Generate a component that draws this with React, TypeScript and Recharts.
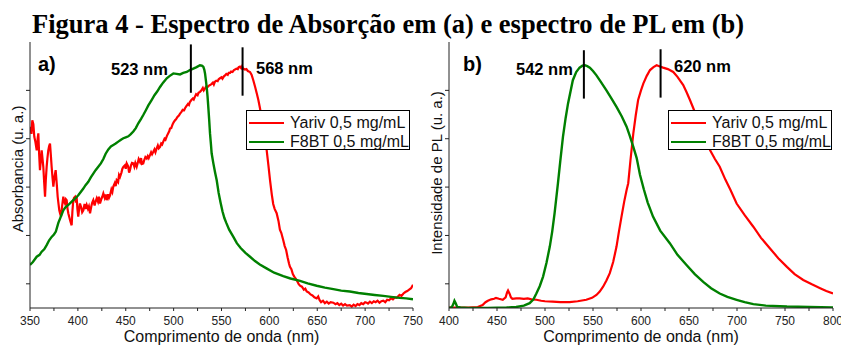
import { LineChart, Line, XAxis, YAxis, ReferenceLine, Legend } from 'recharts';

// Absorbance (a): [wavelength nm, intensity a.u.]
const yarivAbs: [number, number][] = [
  [350, 3.75], [351.5, 3.6], [352.4, 3.88], [353.5, 3.8], [354.5, 3.54], [355.5, 3.45], [357, 3.26], [358, 3.5],
  [358.7, 3.61], [359.5, 3.2], [360.4, 2.85], [361.3, 3.05], [362.2, 3.26], [363, 3.1], [363.9, 2.92], [364.8, 2.6],
  [365.7, 2.3], [366.5, 2.65], [367.4, 2.92], [368.2, 3.1], [369.1, 3.26], [370, 3.35], [370.9, 3.4], [371.8, 3.15],
  [372.6, 2.92], [373.5, 2.7], [374.4, 2.51], [375.5, 2.7], [376.8, 2.85], [378, 2.55], [378.9, 2.3], [379.8, 2.15],
  [380.6, 2.02], [381.5, 1.95], [382.4, 1.89], [383.5, 2.1], [384.8, 2.3], [385.7, 2.2], [386.6, 2.16], [387.5, 2.25],
  [388.3, 2.23], [389.2, 2.05], [390, 1.96], [391, 1.88], [391.8, 1.82], [392.7, 1.76], [393.5, 1.71], [394.3, 2.0],
  [395.2, 2.23], [396, 2.28], [397, 2.3], [398, 2.18], [398.7, 2.3], [399.5, 2.05], [400.4, 1.89], [401.3, 2.05],
  [402.2, 2.16], [403.5, 2.08], [404.5, 1.98], [405.7, 2.02], [407, 2.15], [408, 2.05], [409.2, 2.13], [410.5, 2.05],
  [411.5, 2.1], [412.7, 1.96], [414, 2.1], [415, 2.18], [416.1, 2.23], [417.5, 2.12], [418.5, 2.2], [419.7, 2.27],
  [421, 2.2], [422, 2.3], [423.1, 2.16], [424.5, 2.25], [425.5, 2.3], [426.6, 2.37], [428, 2.28], [429, 2.35],
  [430.1, 2.23], [431.5, 2.35], [432.5, 2.28], [433.6, 2.33], [435, 2.45], [436, 2.4], [437, 2.51], [438.5, 2.58],
  [439.5, 2.52], [440.5, 2.64], [442, 2.6], [443, 2.75], [444, 2.71], [445.5, 2.8], [446.5, 2.88], [447.5, 2.92],
  [449, 2.95], [450, 2.88], [451, 2.99], [452.5, 2.93], [453.5, 2.8], [454.4, 2.85], [455.5, 2.95], [456.5, 3.0],
  [457.9, 2.99], [459, 2.92], [460, 3.0], [461.4, 2.92], [462.5, 3.0], [463.5, 3.08], [464.9, 3.02], [466, 3.1],
  [467, 2.98], [468.3, 2.99], [469.5, 3.07], [470.5, 3.12], [471.9, 3.09], [473, 3.14], [474, 3.1], [475.3, 3.16],
  [476.5, 3.22], [477.5, 3.18], [478.8, 3.23], [480, 3.28], [481, 3.22], [482.3, 3.3], [483.5, 3.36], [484.5, 3.3],
  [485.8, 3.33], [487, 3.4], [488, 3.38], [489.2, 3.44], [490.5, 3.5], [491.5, 3.48], [493, 3.56], [494.5, 3.62],
  [495.5, 3.66], [496.2, 3.71], [497.5, 3.72], [499, 3.8], [500, 3.84], [501.4, 3.88], [502.5, 3.9], [504, 3.95],
  [505.5, 3.98], [506.7, 4.02], [508, 4.05], [509.5, 4.1], [511, 4.09], [511.9, 4.13], [513.5, 4.18], [515, 4.22],
  [516, 4.2], [517, 4.26], [518.5, 4.3], [520, 4.33], [521, 4.31], [522.3, 4.37], [523.5, 4.42], [525, 4.4],
  [526, 4.45], [527.5, 4.47], [529, 4.5], [530.5, 4.55], [531.5, 4.5], [532.8, 4.54], [534, 4.58], [535.5, 4.57],
  [537, 4.6], [538, 4.61], [539.5, 4.63], [541, 4.66], [542, 4.62], [543.2, 4.68], [544.5, 4.7], [546, 4.69],
  [547, 4.73], [548.4, 4.75], [550, 4.77], [551, 4.74], [552.5, 4.79], [553.7, 4.81], [555, 4.84], [556.5, 4.82],
  [557.5, 4.86], [558.9, 4.86], [560, 4.89], [561.5, 4.88], [563, 4.92], [564.1, 4.93], [565.5, 4.95], [567, 4.94],
  [568, 4.98], [569.3, 4.99], [570.5, 4.96], [571.5, 5.0], [572.5, 4.95], [574.5, 4.93], [576, 4.94], [577.5, 4.9],
  [579.8, 4.88], [581.5, 4.82], [583.2, 4.71], [585, 4.58], [586.8, 4.44], [588.5, 4.3], [590.2, 4.13], [592, 3.92],
  [593.7, 3.68], [595.5, 3.48], [597.2, 3.26], [599, 2.95], [600.7, 2.64], [602.5, 2.35], [604, 2.15], [605.5, 2.05],
  [607.6, 1.96], [609.5, 1.8], [611, 1.62], [612.5, 1.55], [614.5, 1.4], [616, 1.28], [617.5, 1.2], [619, 1.05],
  [620.5, 0.92], [621.5, 0.85], [623, 0.8], [624.5, 0.7], [626, 0.65], [628.5, 0.58], [630.5, 0.5], [632, 0.46],
  [634, 0.44], [636, 0.38], [637.5, 0.4], [639, 0.34], [641, 0.32], [643, 0.28], [645, 0.26], [647, 0.22],
  [649.4, 0.2], [651, 0.24], [652.5, 0.16], [654, 0.12], [656, 0.15], [658, 0.1], [660, 0.13], [662, 0.09],
  [664, 0.12], [666.8, 0.11], [669, 0.08], [671, 0.1], [673, 0.06], [675, 0.09], [677, 0.05], [679, 0.08],
  [681, 0.05], [684, 0.06], [686, 0.03], [688, 0.07], [690, 0.04], [692, 0.08], [694, 0.06], [696, 0.1],
  [698, 0.08], [700, 0.12], [701.6, 0.11], [703, 0.09], [705, 0.13], [707, 0.1], [709, 0.14], [711, 0.12],
  [713, 0.15], [715, 0.11], [717, 0.14], [719, 0.15], [721, 0.12], [723, 0.17], [725, 0.16], [727, 0.2],
  [729, 0.18], [731, 0.22], [733, 0.21], [736, 0.27], [738, 0.25], [740, 0.3], [742, 0.33], [744, 0.35],
  [746, 0.38], [748, 0.41], [750, 0.48],
];

const f8btAbs: [number, number][] = [
  [350, 0.89], [353, 0.95], [357, 1.06], [360, 1.1], [362, 1.16], [365, 1.22], [367.4, 1.3], [370, 1.4],
  [372.6, 1.47], [375, 1.52], [377, 1.58], [379.6, 1.76], [382, 1.88], [384.8, 2.02], [387, 2.08], [390, 2.13],
  [392.5, 2.18], [395.2, 2.23], [398, 2.28], [400.4, 2.33], [403, 2.4], [405.7, 2.47], [408, 2.54], [410.9, 2.61],
  [413.5, 2.7], [416.1, 2.78], [418.5, 2.85], [421.3, 2.92], [424, 2.99], [426.6, 3.08], [429, 3.19], [431.8, 3.28],
  [434.5, 3.34], [437, 3.37], [439.5, 3.4], [442.2, 3.44], [445, 3.48], [447.5, 3.51], [450, 3.53], [452.7, 3.55],
  [455, 3.59], [457.9, 3.65], [460.5, 3.72], [463.1, 3.82], [466, 3.91], [468.3, 3.99], [471, 4.09], [473.6, 4.19],
  [477, 4.3], [480, 4.4], [483, 4.48], [485.8, 4.57], [489, 4.66], [492.8, 4.75], [496, 4.8], [499.7, 4.85],
  [503, 4.84], [506.7, 4.83], [510, 4.86], [513.7, 4.88], [517, 4.92], [520.6, 4.95], [524, 4.98], [527.5, 5.02],
  [529.5, 5.01], [531, 4.99], [532, 4.93], [532.8, 4.85], [533.6, 4.72], [534.5, 4.57], [535.4, 4.38], [536.2, 4.16],
  [537.1, 3.9], [538, 3.61], [539, 3.38], [539.7, 3.2], [541.5, 2.99], [543.3, 2.8], [545, 2.64], [547, 2.38],
  [549, 2.18], [551, 2.0], [553, 1.86], [555, 1.76], [558, 1.62], [562.4, 1.47], [566, 1.34], [570, 1.24],
  [575, 1.14], [579.8, 1.06], [585, 0.97], [590, 0.9], [597, 0.82], [605, 0.73], [614.5, 0.66], [622, 0.61],
  [632, 0.56], [640, 0.51], [649.4, 0.46], [658, 0.42], [666.8, 0.39], [675, 0.36], [684, 0.34], [693, 0.31],
  [701.6, 0.29], [710, 0.27], [719, 0.25], [727, 0.23], [736, 0.21], [743, 0.2], [750, 0.18],
];

// Photoluminescence (b)
const yarivPL: [number, number][] = [
  [400, 0.01], [410, 0.01], [420, 0.01], [430, 0.02], [435, 0.06], [438, 0.12], [440.5, 0.15], [444, 0.18],
  [447, 0.19], [449, 0.21], [452, 0.19], [456, 0.17], [459, 0.22], [460.5, 0.32], [461.5, 0.36], [463, 0.3],
  [464.5, 0.22], [466, 0.19], [470, 0.2], [473.6, 0.2], [478, 0.19], [482, 0.2], [486, 0.18], [491, 0.17],
  [496, 0.15], [500, 0.14], [508, 0.13], [516, 0.12], [525.6, 0.12], [534, 0.14], [543, 0.17], [549, 0.21],
  [553.6, 0.27], [557, 0.34], [560.5, 0.44], [564, 0.57], [567.5, 0.72], [571, 0.95], [574.5, 1.27], [577, 1.58],
  [579.7, 1.89], [582.5, 2.2], [585, 2.44], [586.7, 2.58], [589, 3.05], [592, 3.61], [594.5, 3.98], [597, 4.3],
  [600, 4.5], [602.4, 4.64], [606, 4.8], [609.4, 4.92], [613, 4.98], [616.3, 5.02], [619, 5.0], [623, 4.97],
  [628, 4.94], [633.6, 4.88], [638, 4.78], [644, 4.61], [647.5, 4.46], [651, 4.3], [654.5, 4.13], [658, 3.95],
  [662, 3.75], [667, 3.5], [672, 3.26], [677, 3.08], [682, 2.92], [688, 2.65], [693, 2.45], [699.6, 2.16],
  [708, 1.92], [717, 1.68], [725, 1.45], [734.4, 1.23], [743, 1.03], [752, 0.85], [760, 0.7], [769, 0.58],
  [778, 0.49], [786.6, 0.41], [793, 0.35], [800, 0.3],
];

const f8btPL: [number, number][] = [
  [400, 0.0], [403, 0.02], [404.5, 0.08], [405.7, 0.15], [407, 0.1], [408.5, 0.02], [412, 0.01], [420, 0.0],
  [440, 0.0], [460, 0.01], [470, 0.02], [478, 0.05], [484, 0.1], [488, 0.18], [491, 0.3], [494.5, 0.45],
  [498, 0.65], [501.5, 0.93], [505, 1.27], [507.5, 1.58], [510, 1.96], [513.5, 2.58], [516, 3.05], [518.7, 3.54],
  [521.5, 3.93], [524, 4.23], [529, 4.71], [532.5, 4.88], [536, 4.97], [539, 5.01], [541.5, 5.02], [544, 5.0],
  [546.7, 4.97], [550, 4.9], [553.6, 4.81], [558, 4.68], [564, 4.5], [569, 4.34], [574.5, 4.16], [580, 3.96],
  [585, 3.75], [588.5, 3.55], [592, 3.33], [595.5, 3.1], [599, 2.75], [603, 2.45], [607, 2.18], [612.5, 1.89],
  [620, 1.6], [630, 1.34], [638, 1.1], [647.4, 0.89], [656, 0.7], [664.8, 0.54], [673, 0.41], [682, 0.3],
  [690, 0.23], [699.6, 0.17], [708, 0.12], [717, 0.08], [730, 0.05], [752, 0.03], [775, 0.02], [800, 0.01],
];

const seriesNames = ['Yariv 0,5 mg/mL', 'F8BT 0,5 mg/mL'];
const absTicks = [350, 375, 400, 425, 450, 475, 500, 525, 550, 575, 600, 625, 650, 675, 700, 725, 750];
const plTicks = [400, 425, 450, 475, 500, 525, 550, 575, 600, 625, 650, 675, 700, 725, 750, 775, 800];
const yTicks = [0.5, 1.5, 2.5, 3.5, 4.5];

const absPeakLines = [518, 572];
const plPeakLines = [540.5, 620.4];

const SANS = '"Liberation Sans", Arial, sans-serif';
const SERIF = '"Liberation Serif", "Times New Roman", serif';
const RED = '#ff0000';
const GREEN = '#008000';
const AXIS = '#222';

const toPoints = (pairs: [number, number][]) => pairs.map(([wl, v]) => ({ wl, v }));

const LegendBox = ({ payload }: any) => {
  const items = [...(payload || [])].sort((a: any, b: any) => seriesNames.indexOf(a.value) - seriesNames.indexOf(b.value));
  return (
    <div style={{ width: 162, height: 38, border: '1px solid #000', background: '#fff', position: 'relative', fontFamily: SANS }}>
      {items.map((p: any, i: number) => (
        <div key={i} style={{ position: 'absolute', left: 0, top: 2 + i * 19, height: 19, display: 'flex', alignItems: 'center' }}>
          <div style={{ marginLeft: 2, width: 35, height: 0, borderTop: `2.5px solid ${p.color}` }} />
          <span style={{ marginLeft: 6, fontSize: 16, lineHeight: '19px', color: '#111' }}>{p.value}</span>
        </div>
      ))}
    </div>
  );
};

type PanelProps = {
  left: number;
  width: number;
  marginRight: number;
  domain: [number, number];
  ticks: number[];
  yariv: [number, number][];
  f8bt: [number, number][];
  peaks: number[];
  peakTops: number[];
  legendLeft: number;
};

const Panel = ({ left, width, marginRight, domain, ticks, yariv, f8bt, peaks, peakTops, legendLeft }: PanelProps) => (
  <div style={{ position: 'absolute', left, top: 0 }}>
    <LineChart width={width} height={345} margin={{ top: 42, right: marginRight, bottom: 0, left: 0 }} style={{ overflow: 'visible' }}>
      <XAxis
        type="number"
        dataKey="wl"
        domain={domain}
        ticks={ticks}
        interval={0}
        allowDataOverflow
        height={37}
        tickSize={3}
        tickMargin={5}
        stroke={AXIS}
        tick={{ fontSize: 12, fill: '#222', fontFamily: SANS }}
        tickFormatter={(v: number) => (v % 50 === 0 ? String(v) : '')}
        label={{ value: 'Comprimento de onda (nm)', position: 'insideBottom', offset: 3, fontSize: 16, fill: '#111', fontFamily: SANS }}
      />
      <XAxis xAxisId="top" orientation="top" type="number" domain={domain} allowDataOverflow height={0} tick={false} tickLine={false} stroke="#444" />
      <YAxis
        type="number"
        domain={[0, 5.5]}
        ticks={yTicks}
        allowDataOverflow
        width={30}
        tickSize={4}
        stroke={AXIS}
        tickFormatter={() => ''}
      />
      <YAxis yAxisId="right" orientation="right" type="number" domain={[0, 5.5]} width={0} tick={false} tickLine={false} stroke="#444" />
      <Legend
        layout="vertical"
        align="center"
        verticalAlign="middle"
        wrapperStyle={{ left: legendLeft, top: 110, width: 164 }}
        content={<LegendBox />}
      />
      <Line data={toPoints(yariv)} dataKey="v" name={seriesNames[0]} stroke={RED} strokeWidth={2.2} dot={false} type="linear" isAnimationActive={false} />
      <Line data={toPoints(f8bt)} dataKey="v" name={seriesNames[1]} stroke={GREEN} strokeWidth={2.4} dot={false} type="linear" isAnimationActive={false} />
      {peaks.map((p, i) => (
        <ReferenceLine key={p} segment={[{ x: p, y: peakTops[i] - 1.0 }, { x: p, y: peakTops[i] }]} stroke="#000" strokeWidth={2} />
      ))}
    </LineChart>
  </div>
);

const App = () => (
  <div style={{ position: 'absolute', left: 0, top: 0, width: 841, height: 345, background: '#fff', overflow: 'hidden' }}>
    <Panel left={0} width={432} marginRight={19} domain={[350, 750]} ticks={absTicks} yariv={yarivAbs} f8bt={f8btAbs}
      peaks={absPeakLines} peakTops={[5.45, 5.39]} legendLeft={246} />
    <Panel left={419} width={422} marginRight={8} domain={[400, 800]} ticks={plTicks} yariv={yarivPL} f8bt={f8btPL}
      peaks={plPeakLines} peakTops={[5.33, 5.35]} legendLeft={249} />
    <svg width={841} height={345} style={{ position: 'absolute', left: 0, top: 0, pointerEvents: 'none' }}>
      <text x={32} y={33} fontFamily={SERIF} fontWeight="bold" fontSize={26.5} fill="#000">
        Figura 4 - Espectro de Absorção em (a) e espectro de PL em (b)
      </text>
      <g fontFamily={SANS} fontWeight="bold" fill="#000">
        <text x={38} y={71} fontSize={20}>a)</text>
        <text x={111} y={75} fontSize={16.5}>523 nm</text>
        <text x={256} y={74} fontSize={16.5}>568 nm</text>
        <text x={463} y={71} fontSize={20}>b)</text>
        <text x={516} y={75} fontSize={16.5}>542 nm</text>
        <text x={674} y={72} fontSize={16.5}>620 nm</text>
      </g>
      <g fontFamily={SANS} fontSize={15} fill="#111" textAnchor="middle">
        <text transform="translate(22.5,169) rotate(-90)">Absorbancia (u. a.)</text>
        <text transform="translate(442,173) rotate(-90)">Intensidade de PL (u. a.)</text>
      </g>
    </svg>
  </div>
);

export default App;
